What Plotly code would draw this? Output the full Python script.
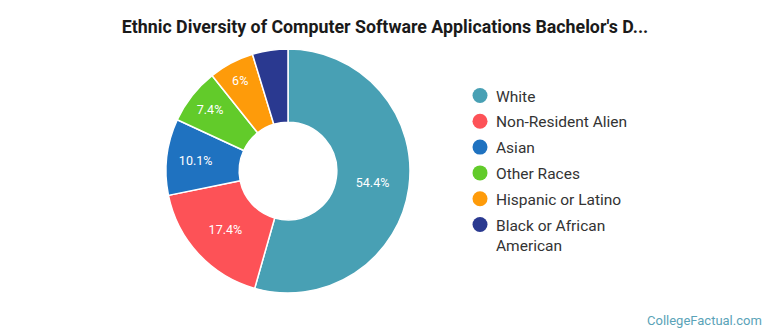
import plotly.graph_objects as go

categories = ["White", "Non-Resident Alien", "Asian", "Other Races", "Hispanic or Latino", "Black or African American"]
legend_labels = ["White", "Non-Resident Alien", "Asian", "Other Races", "Hispanic or Latino", "Black or African<br>American"]
values = [54.4, 17.4, 10.1, 7.4, 6.0, 4.7]
slice_text = ["54.4%", "17.4%", "10.1%", "7.4%", "6%", ""]
colors = ["#48a0b4", "#fd5257", "#1f72c0", "#62cb2a", "#fe9b0a", "#2a3990"]

W, H = 770, 335
fig = go.Figure()
fig.add_trace(go.Pie(
    labels=categories, values=values, text=slice_text, textinfo="text",
    sort=False, direction="clockwise", rotation=0, hole=0.4,
    marker=dict(colors=colors, line=dict(color="white", width=1.5)),
    textfont=dict(family="Roboto", size=12.5, color="white"),
    insidetextorientation="horizontal", textposition="inside",
    domain=dict(x=[166/W, 410/W], y=[42/H, 286/H]),
    showlegend=False, hoverinfo="label+percent",
))

shapes = []
annotations = []
row_gap = 25.8
top = 95.5
r = 7.5
cx = 480
for i, (lab, col) in enumerate(zip(legend_labels, colors)):
    cy = top + i * row_gap
    shapes.append(dict(type="circle", xref="paper", yref="paper",
                       x0=(cx - r)/W, x1=(cx + r)/W, y0=1 - (cy + r)/H, y1=1 - (cy - r)/H,
                       fillcolor=col, line=dict(width=0)))
    annotations.append(dict(text=lab, x=494/W, y=1 - (cy - 10)/H, xref="paper", yref="paper",
                            xanchor="left", yanchor="top", align="left", showarrow=False,
                            font=dict(family="Roboto", size=15.5, color="#333333")))

annotations.append(dict(text="CollegeFactual.com", x=1, y=0, xref="paper", yref="paper",
                        xanchor="right", yanchor="bottom", xshift=-6, yshift=5, showarrow=False,
                        font=dict(family="Roboto", size=13, color="#5aa3b8")))

fig.update_layout(
    width=W, height=H, margin=dict(l=0, r=0, t=0, b=0),
    paper_bgcolor="white", plot_bgcolor="white",
    showlegend=False,
    title=dict(text="<b>Ethnic Diversity of Computer Software Applications Bachelor's D...</b>",
               x=0.5, xanchor="center", y=1 - 27/H, yanchor="middle",
               font=dict(family="Roboto", size=17.8, color="#1a1a1a")),
    shapes=shapes,
    annotations=annotations,
)
fig.write_html("out.html")
